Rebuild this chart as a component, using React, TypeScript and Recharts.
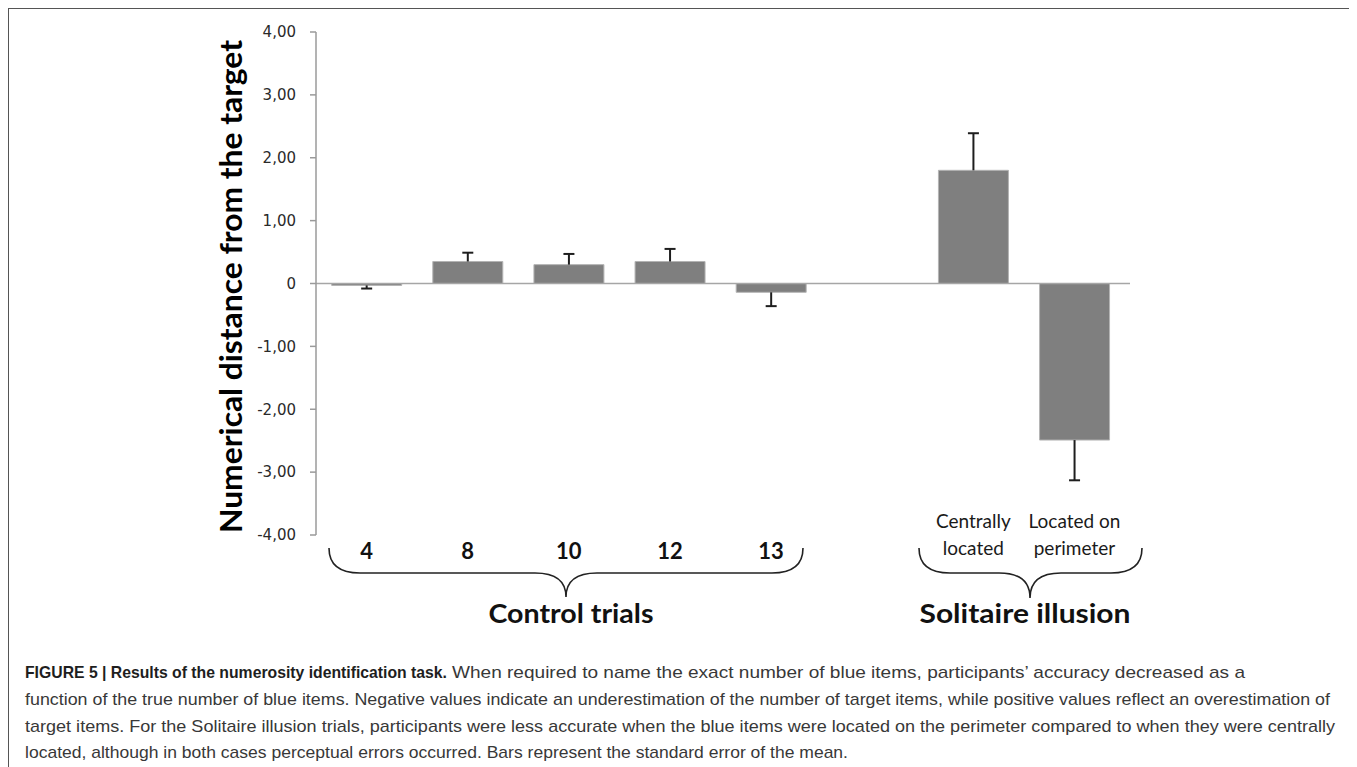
import React from 'react';
import { BarChart, Bar, XAxis, YAxis, ReferenceLine } from 'recharts';

// ---- data ----
const categories = ['4', '8', '10', '12', '13', ' ', 'Centrally located', 'Located on perimeter'];
const categoryLines: string[][] = [['4'], ['8'], ['10'], ['12'], ['13'], [], ['Centrally', 'located'], ['Located on', 'perimeter']];
const means: (number | null)[] = [-0.03, 0.35, 0.30, 0.35, -0.14, null, 1.80, -2.49];
const sems: (number | null)[] = [0.05, 0.14, 0.17, 0.20, 0.22, null, 0.59, 0.64];
const yTicks = [4, 3, 2, 1, 0, -1, -2, -3, -4];
const yAxisTitle = 'Numerical distance from the target';
const groupLabels = ['Control trials', 'Solitaire illusion'];
const captionBold = 'FIGURE 5 | Results of the numerosity identification task.';
const captionLines = [
  'When required to name the exact number of blue items, participants\u2019 accuracy decreased as a',
  'function of the true number of blue items. Negative values indicate an underestimation of the number of target items, while positive values reflect an overestimation of',
  'target items. For the Solitaire illusion trials, participants were less accurate when the blue items were located on the perimeter compared to when they were centrally',
  'located, although in both cases perceptual errors occurred. Bars represent the standard error of the mean.',
];

const data = categories.map((c, i) => ({
  cat: c,
  mean: means[i],
  err: means[i] == null ? null : Math.sign(means[i] as number) * (sems[i] as number),
}));

const fmtY = (v: number) => (v === 0 ? '0' : v.toFixed(2).replace('.', ','));

const ErrShape = (props: any) => {
  const { x, y, width, height, payload } = props;
  if (!payload || payload.mean == null || x == null || y == null) return null;
  const cx = x + width / 2;
  const top = Math.min(y, y + height);
  const bottom = Math.max(y, y + height);
  const capY = payload.mean > 0 ? top : bottom;
  return (
    <g>
      <line x1={cx} x2={cx} y1={top} y2={bottom} stroke="#1e1e1e" strokeWidth={2} />
      <line x1={cx - 5.5} x2={cx + 5.5} y1={capY} y2={capY} stroke="#1e1e1e" strokeWidth={2} />
    </g>
  );
};

const XTick = (props: any) => {
  const { x, y, index } = props;
  const lines = categoryLines[index] || [];
  if (lines.length === 0) return null;
  if (lines.length === 1) {
    return (
      <text x={x} y={y + 24} textAnchor="middle" fontFamily="Lato" fontWeight={700} fontSize={22} fill="#111">
        {lines[0]}
      </text>
    );
  }
  return (
    <g>
      <text x={x} y={y - 7} textAnchor="middle" fontFamily="Lato" fontSize={19} fill="#1a1a1a">{lines[0]}</text>
      <text x={x} y={y + 20} textAnchor="middle" fontFamily="Lato" fontSize={19} fill="#1a1a1a">{lines[1]}</text>
    </g>
  );
};

export default function App() {
  return (
    <div style={{ position: 'relative', width: 1349, height: 759, overflow: 'hidden' }}>
      <style>{'html{overflow:hidden;background:#fff} body{margin:8px 8px 0 8px}'}</style>
      <div
        style={{
          position: 'absolute', left: 0, top: 0, width: 1348, height: 800,
          border: '1.5px solid #555', boxSizing: 'border-box',
        }}
      />
      <div style={{ position: 'absolute', left: 0, top: 0 }}>
        <BarChart
          width={1349}
          height={640}
          data={data}
          margin={{ top: 24, right: 227, bottom: 53, left: 218 }}
          barCategoryGap="15.5%"
        >
          <XAxis dataKey="cat" axisLine={false} tickLine={false} tickSize={0} tickMargin={0} height={60} interval={0} tick={<XTick />} padding={{ right: 5 }} />
          <YAxis
            width={90}
            domain={[-4, 4]}
            ticks={yTicks}
            interval={0}
            tickFormatter={fmtY}
            axisLine={{ stroke: '#9a9a9a', strokeWidth: 1.5 }}
            tickLine={{ stroke: '#9a9a9a', strokeWidth: 1.5 }}
            tickSize={6}
            tickMargin={14}
            tick={{ fontFamily: 'DejaVu Sans', fontSize: 15, fill: '#2a2a2a' }}
          />
          <ReferenceLine y={0} stroke="#a6a6a6" strokeWidth={1.5} />
          <Bar dataKey="mean" stackId="a" fill="#7f7f7f" stroke="#b4b4b4" strokeWidth={1} isAnimationActive={false} />
          <Bar dataKey="err" stackId="a" fill="none" shape={<ErrShape />} isAnimationActive={false} />
        </BarChart>
      </div>
      <svg
        width={1349}
        height={759}
        style={{ position: 'absolute', left: 0, top: 0, pointerEvents: 'none' }}
      >
        <text
          transform="translate(234,278.5) rotate(-90)"
          textAnchor="middle"
          fontFamily="Lato"
          fontWeight={700}
          fontSize={30}
          fill="#000"
          textLength={493}
          lengthAdjust="spacingAndGlyphs"
        >
          {yAxisTitle}
        </text>
        <path
          d="M321,540 Q321,565 352,565 L527,565 Q558,565 558,589 Q558,565 589,565 L764,565 Q795,565 795,540"
          fill="none" stroke="#222" strokeWidth={1.6}
        />
        <path
          d="M911,540 Q911,565 942,565 L991,565 Q1022,565 1022,590 Q1022,565 1053,565 L1103,565 Q1134,565 1134,540"
          fill="none" stroke="#222" strokeWidth={1.6}
        />
        <text x={563} y={615} textAnchor="middle" fontFamily="Lato" fontWeight={700} fontSize={27} fill="#111" textLength={165} lengthAdjust="spacingAndGlyphs">
          {groupLabels[0]}
        </text>
        <text x={1017} y={615} textAnchor="middle" fontFamily="Lato" fontWeight={700} fontSize={27} fill="#111" textLength={211} lengthAdjust="spacingAndGlyphs">
          {groupLabels[1]}
        </text>
        <text x={17} y={670} fontFamily="Liberation Sans" fontWeight={700} fontSize={16.5} fill="#1e1e1e" textLength={422} lengthAdjust="spacingAndGlyphs">
          {captionBold}
        </text>
        <text x={444} y={670} fontFamily="Liberation Sans" fontSize={17} fill="#383838" textLength={793} lengthAdjust="spacingAndGlyphs">
          {captionLines[0]}
        </text>
        <text x={17} y={697} fontFamily="Liberation Sans" fontSize={17} fill="#383838" textLength={1305} lengthAdjust="spacingAndGlyphs">
          {captionLines[1]}
        </text>
        <text x={17} y={724} fontFamily="Liberation Sans" fontSize={17} fill="#383838" textLength={1310} lengthAdjust="spacingAndGlyphs">
          {captionLines[2]}
        </text>
        <text x={17} y={750} fontFamily="Liberation Sans" fontSize={17} fill="#383838" textLength={823} lengthAdjust="spacingAndGlyphs">
          {captionLines[3]}
        </text>
      </svg>
    </div>
  );
}
